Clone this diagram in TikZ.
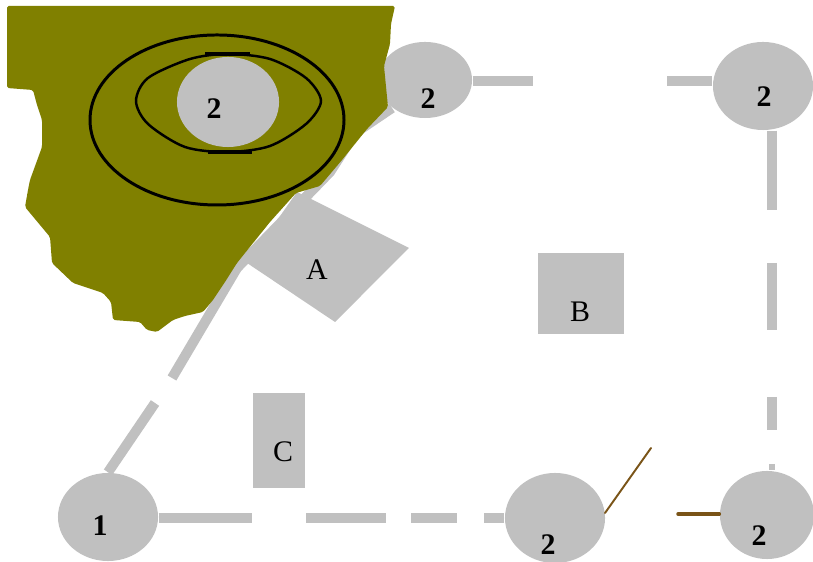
\documentclass[tikz,border=0pt]{standalone}
\usepackage{fontspec}
\setmainfont{Liberation Serif}
\usetikzlibrary{shapes.geometric}
\definecolor{hubgray}{RGB}{192,192,192}
\definecolor{landolive}{RGB}{128,128,0}
\definecolor{linkbrown}{RGB}{122,84,24}
\tikzstyle{hub}=[ellipse,fill=hubgray,inner sep=0pt]
\tikzstyle{lotbox}=[rectangle,fill=hubgray,inner sep=0pt]
\tikzstyle{tag}=[inner sep=0pt,font=\fontsize{8.5}{10}\selectfont\bfseries]
\tikzstyle{lottag}=[inner sep=0pt,font=\fontsize{8.5}{10}\selectfont]
\tikzstyle{wire}=[draw=hubgray,line width=2.85pt]
\tikzstyle{link}=[draw=linkbrown,line cap=round]
\tikzstyle{ring}=[draw=black,line width=0.85pt]

\begin{document}
\begin{tikzpicture}[x=0.01cm,y=-0.01cm]
\useasboundingbox (0,0) rectangle (813,562);

% stations
\node[hub,minimum width=1cm,minimum height=0.88cm] (one) at (108,517) {};
\node[hub,minimum width=0.94cm,minimum height=0.76cm] (topmid) at (425,80) {};
\node[hub,minimum width=1cm,minimum height=0.88cm] (topright) at (763,86) {};
\node[hub,minimum width=1cm,minimum height=0.9cm] (botmid) at (555,518) {};
\node[hub,minimum width=0.94cm,minimum height=0.88cm] (botright) at (767,515) {};

% free ends of the lines
\coordinate (d1) at (155,403);
\coordinate (d2) at (172,378);
\coordinate (d3) at (237,268);
\coordinate (d4) at (330,172);
\coordinate (d5) at (355,133);
\coordinate (d6) at (392,108);
\coordinate (t1) at (533,81);
\coordinate (t2) at (667,81);
\coordinate (r1) at (772,210);
\coordinate (r2) at (772,263);
\coordinate (r3) at (772,330);
\coordinate (r4) at (772,397);
\coordinate (r5) at (772,430);
\coordinate (r6) at (772,464);
\coordinate (b1) at (252,518);
\coordinate (b2) at (306,518);
\coordinate (b3) at (386,518);
\coordinate (b4) at (411,518);
\coordinate (b5) at (457,518);
\coordinate (b6) at (484,518);
\coordinate (s1) at (651,448);
\coordinate (s2) at (678,514);
\coordinate (s3) at (605,513);

% gray lines
\draw[wire] (one.north) -- (d1);
\draw[wire] (d2) -- (d3) -- (d4) -- (d5) -- (d6);
\draw[wire] (topmid.east |- t1) -- (t1);
\draw[wire] (t2) -- (topright.west |- t2);
\draw[wire] (topright.south -| r1) -- (r1);
\draw[wire] (r2) -- (r3);
\draw[wire] (r4) -- (r5);
\draw[wire] (one.east |- b1) -- (b1);
\draw[wire] (b2) -- (b3);
\draw[wire] (b4) -- (b5);
\draw[wire] (b6) -- (botmid.west |- b6);
\draw[draw=hubgray,line width=1.6pt] (r6) -- (botright.north -| r6);

% lots
\fill[hubgray] (297,192) -- (409,248) -- (335,322) -- (247,263) -- cycle;
\node[lotbox,minimum width=0.86cm,minimum height=0.81cm] (lotb) at (581,293.5) {};
\node[lotbox,minimum width=0.52cm,minimum height=0.95cm] (lotc) at (279,440.5) {};

% olive area
\fill[landolive,rounded corners=0.5pt] (7,6) -- (395,6) -- (391,24) -- (390,44) -- (384,66) -- (388,107)
 -- (367,129) -- (342,160) -- (320,186) -- (296,193) -- (270,222) -- (237,263)
 -- (225,282) -- (213,300) -- (203,312) -- (185,316) -- (173,320) -- (157,332)
 -- (147,330) -- (140,322) -- (113,320) -- (111,302) -- (103,293) -- (85,287)
 -- (73,283) -- (52,263) -- (50,237) -- (25,207) -- (28,190) -- (30,180) -- (42,147)
 -- (42,120) -- (37,105) -- (33,90) -- (7,88) -- cycle;

% rings and station on the olive area
\node[hub,minimum width=1.02cm,minimum height=0.9cm] (mid) at (228,102) {};
\draw[ring] (217,120) ellipse [x radius=127,y radius=85];
\draw[black,line width=0.7pt] plot[smooth cycle] coordinates {(136,101) (148,78) (190,59)
 (228,54) (270,59) (306,78) (321,101) (306,124) (270,146) (228,152) (185,147) (148,124)};
\draw[black,line width=1.1pt] (205,54) -- (250,54);
\draw[black,line width=1.1pt] (208,152) -- (252,152);

% brown links
\draw[link,line width=0.55pt] (s3) -- (s1);
\draw[link,line width=1pt] (s2) -- (botright.west |- s2);

% labels
\node[tag] (l1) at (214,109) {2};
\node[tag] (l2) at (428,99) {2};
\node[tag] (l3) at (764,97) {2};
\node[tag] (l4) at (100,526) {1};
\node[tag] (l5) at (548,545) {2};
\node[tag] (l6) at (759,536) {2};
\node[lottag] (pa) at (317,270) {A};
\node[lottag] (pb) at (580,312) {B};
\node[lottag] (pc) at (283,452) {C};
\end{tikzpicture}
\end{document}
